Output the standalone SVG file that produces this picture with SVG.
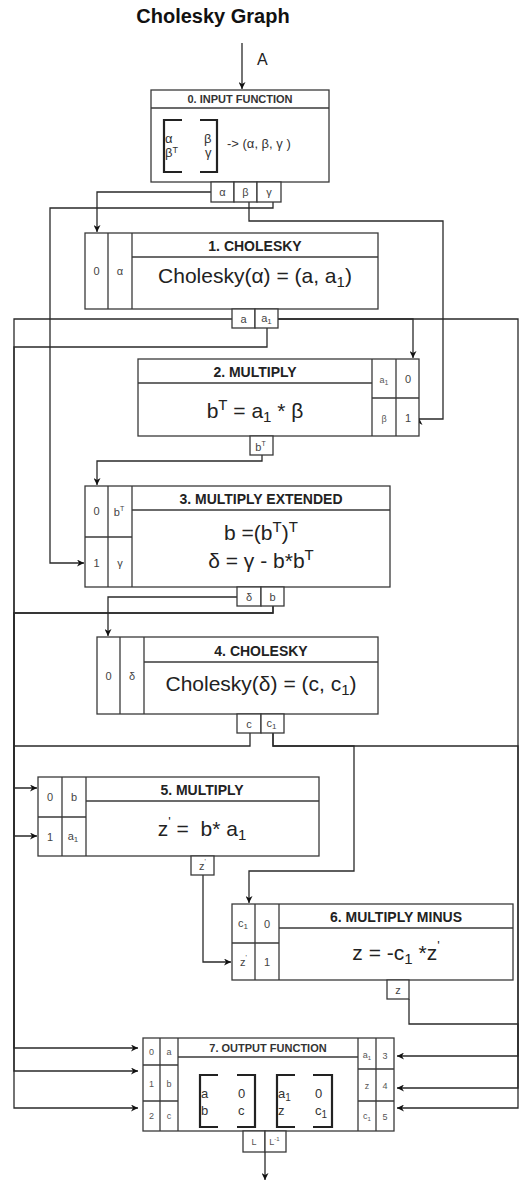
<svg xmlns="http://www.w3.org/2000/svg" width="520" height="1186" viewBox="0 0 520 1186">
<style>
.bg{fill:#fff}
.box{fill:#fff;stroke:#3a3a3a;stroke-width:1.3}
.ln{fill:none;stroke:#3a3a3a;stroke-width:1.3}
.edge{fill:none;stroke:#2a2a2a;stroke-width:1.3}
.brk{fill:none;stroke:#222;stroke-width:2.2}
.title{font-family:"Liberation Sans",Arial,sans-serif;font-weight:bold;font-size:20px;fill:#111;text-anchor:middle}
.hdr{font-family:"Liberation Sans",Arial,sans-serif;font-weight:bold;font-size:14px;fill:#222;text-anchor:middle}
.hdrs{font-family:"Liberation Sans",Arial,sans-serif;font-weight:bold;font-size:11px;fill:#333;text-anchor:middle}
.body{font-family:"Liberation Sans",Arial,sans-serif;font-size:21px;fill:#222;text-anchor:middle}
.mat{font-family:"Liberation Sans",Arial,sans-serif;font-size:13px;fill:#333}
.port{font-family:"Liberation Sans",Arial,sans-serif;font-size:11px;fill:#444;text-anchor:middle}
.ports{font-family:"Liberation Sans",Arial,sans-serif;font-size:9px;fill:#555;text-anchor:middle}
.lbl{font-family:"Liberation Sans",Arial,sans-serif;font-size:16px;fill:#222}
</style>
<defs>
<marker id="arr" viewBox="0 0 10 10" refX="10" refY="5" markerWidth="7" markerHeight="7" markerUnits="userSpaceOnUse" orient="auto">
<path d="M0,0 L10,5 L0,10 L3,5 z" fill="#111"/>
</marker>
</defs>
<rect class="bg" x="0" y="0" width="520" height="1186"/>
<text class="title" x="213" y="23">Cholesky Graph</text>

<g id="connectors">
<path class="edge" d="M242,43 V89" marker-end="url(#arr)"/>
<text class="lbl" x="257" y="65">A</text>
<path class="edge" d="M211,192 H97 V232" marker-end="url(#arr)"/>
<path class="edge" d="M249,202 V221 H443 V419 H419 V418" marker-end="url(#arr)"/>
<path class="edge" d="M273,202 V208 H50 V563 H84" marker-end="url(#arr)"/>
<path class="edge" d="M232,319 H14 V1048 H138" marker-end="url(#arr)"/>
<path class="edge" d="M278,319 H413 V358" marker-end="url(#arr)"/>
<path class="edge" d="M278,319 H518 V1056 H397" marker-end="url(#arr)"/>
<path class="edge" d="M267,328 V347 H14 V836 H37" marker-end="url(#arr)"/>
<path class="edge" d="M262,455 V461 H97 V485" marker-end="url(#arr)"/>
<path class="edge" d="M237,597 H108 V636" marker-end="url(#arr)"/>
<path class="edge" d="M273,606 V613 H14 V788 H37" marker-end="url(#arr)"/>
<path class="edge" d="M273,606 V613 H14 V1071 H138" marker-end="url(#arr)"/>
<path class="edge" d="M250,733 V746 H14 V1108 H138" marker-end="url(#arr)"/>
<path class="edge" d="M273,733 V746 H354 V871 H249 V903" marker-end="url(#arr)"/>
<path class="edge" d="M273,733 V746 H518 V1108 H397" marker-end="url(#arr)"/>
<path class="edge" d="M203,875 V962 H231" marker-end="url(#arr)"/>
<path class="edge" d="M409,999 V1024 H518 V1088 H397" marker-end="url(#arr)"/>
<path class="edge" d="M265,1152 V1180" marker-end="url(#arr)"/>
</g>

<g id="node0">
<rect class="box" x="151" y="90" width="178" height="92"/>
<line class="ln" x1="151" y1="108" x2="329" y2="108"/>
<text class="hdrs" x="240" y="103">0. INPUT FUNCTION</text>
<path class="brk" d="M182,120 H164 V172 H182"/>
<path class="brk" d="M200,120 H217 V172 H200"/>
<text class="mat" x="165" y="143">α</text>
<text class="mat" x="204" y="143">β</text>
<text class="mat" x="165" y="157">β<tspan font-size="9" dy="-4">T</tspan></text>
<text class="mat" x="205" y="157">γ</text>
<text class="mat" x="227" y="148" font-size="14">-&gt; (α, β, γ )</text>
<rect class="box" x="211" y="182" width="23" height="20"/>
<rect class="box" x="234" y="182" width="23" height="20"/>
<rect class="box" x="257" y="182" width="24" height="20"/>
<text class="port" x="222.5" y="196" font-size="10">α</text>
<text class="port" x="245.5" y="196" font-size="10">β</text>
<text class="port" x="269" y="196" font-size="10">γ</text>
</g>

<g id="node1">
<rect class="box" x="85" y="233" width="293" height="76"/>
<line class="ln" x1="108" y1="233" x2="108" y2="309"/>
<line class="ln" x1="132" y1="233" x2="132" y2="309"/>
<line class="ln" x1="132" y1="257" x2="378" y2="257"/>
<text class="hdr" x="255" y="251">1. CHOLESKY</text>
<text class="body" x="255" y="283">Cholesky(α) = (a, a<tspan font-size="15" dy="4">1</tspan><tspan dy="-4">)</tspan></text>
<text class="port" x="96.5" y="275">0</text>
<text class="port" x="120" y="275">α</text>
<rect class="box" x="232" y="309" width="23" height="19"/>
<rect class="box" x="255" y="309" width="23" height="19"/>
<text class="port" x="243.5" y="323">a</text>
<text class="port" x="266.5" y="322">a<tspan font-size="8" dy="2">1</tspan></text>
</g>

<g id="node2">
<rect class="box" x="138" y="359" width="281" height="77"/>
<line class="ln" x1="372" y1="359" x2="372" y2="436"/>
<line class="ln" x1="396" y1="359" x2="396" y2="436"/>
<line class="ln" x1="138" y1="383" x2="372" y2="383"/>
<line class="ln" x1="372" y1="398" x2="419" y2="398"/>
<text class="hdr" x="255" y="377">2. MULTIPLY</text>
<text class="body" x="255" y="418">b<tspan font-size="15" dy="-8">T</tspan><tspan dy="8"> = a</tspan><tspan font-size="15" dy="4">1</tspan><tspan dy="-4"> * β</tspan></text>
<text class="ports" x="384" y="383">a<tspan font-size="7" dy="2">1</tspan></text>
<text class="port" x="408" y="383">0</text>
<text class="ports" x="384" y="422">β</text>
<text class="port" x="408" y="422">1</text>
<rect class="box" x="250" y="436" width="23" height="19"/>
<text class="port" x="260.5" y="451" font-size="10">b<tspan font-size="7" dy="-5">T</tspan></text>
</g>

<g id="node3">
<rect class="box" x="85" y="486" width="305" height="101"/>
<line class="ln" x1="108" y1="486" x2="108" y2="587"/>
<line class="ln" x1="132" y1="486" x2="132" y2="587"/>
<line class="ln" x1="85" y1="537" x2="132" y2="537"/>
<line class="ln" x1="132" y1="510" x2="390" y2="510"/>
<text class="hdr" x="261" y="504">3. MULTIPLY EXTENDED</text>
<text class="body" x="261" y="540">b =(b<tspan font-size="15" dy="-8">T</tspan><tspan dy="8">)</tspan><tspan font-size="15" dy="-8">T</tspan></text>
<text class="body" x="261" y="568">δ = γ - b*b<tspan font-size="15" dy="-8">T</tspan></text>
<text class="port" x="96.5" y="515">0</text>
<text class="port" x="119" y="516" font-size="10">b<tspan font-size="7" dy="-5">T</tspan></text>
<text class="port" x="96.5" y="567">1</text>
<text class="port" x="120" y="567" font-size="10">γ</text>
<rect class="box" x="237" y="587" width="24" height="19"/>
<rect class="box" x="261" y="587" width="23" height="19"/>
<text class="port" x="249" y="601" font-size="10">δ</text>
<text class="port" x="272.5" y="601" font-size="10">b</text>
</g>

<g id="node4">
<rect class="box" x="97" y="637" width="281" height="77"/>
<line class="ln" x1="120" y1="637" x2="120" y2="714"/>
<line class="ln" x1="144" y1="637" x2="144" y2="714"/>
<line class="ln" x1="144" y1="662" x2="378" y2="662"/>
<text class="hdr" x="261" y="656">4. CHOLESKY</text>
<text class="body" x="261" y="691">Cholesky(δ) = (c, c<tspan font-size="15" dy="4">1</tspan><tspan dy="-4">)</tspan></text>
<text class="port" x="108.5" y="680">0</text>
<text class="port" x="132" y="680" font-size="10">δ</text>
<rect class="box" x="237" y="714" width="24" height="19"/>
<rect class="box" x="261" y="714" width="23" height="19"/>
<text class="port" x="249" y="728">c</text>
<text class="port" x="271.5" y="727">c<tspan font-size="8" dy="2">1</tspan></text>
</g>

<g id="node5">
<rect class="box" x="38" y="777" width="281" height="79"/>
<line class="ln" x1="62" y1="777" x2="62" y2="856"/>
<line class="ln" x1="86" y1="777" x2="86" y2="856"/>
<line class="ln" x1="38" y1="817" x2="86" y2="817"/>
<line class="ln" x1="86" y1="801" x2="319" y2="801"/>
<text class="hdr" x="202" y="795">5. MULTIPLY</text>
<text class="body" x="202" y="836">z<tspan font-size="13" dy="-10">'</tspan><tspan dy="10"> =&#160; b* a</tspan><tspan font-size="15" dy="4">1</tspan></text>
<text class="port" x="50" y="801">0</text>
<text class="port" x="74" y="801">b</text>
<text class="port" x="50" y="841">1</text>
<text class="port" x="73" y="840">a<tspan font-size="8" dy="2">1</tspan></text>
<rect class="box" x="191" y="856" width="23" height="19"/>
<text class="port" x="202.5" y="870">z<tspan font-size="7" dy="-6">'</tspan></text>
</g>

<g id="node6">
<rect class="box" x="232" y="904" width="281" height="76"/>
<line class="ln" x1="255" y1="904" x2="255" y2="980"/>
<line class="ln" x1="279" y1="904" x2="279" y2="980"/>
<line class="ln" x1="232" y1="943" x2="279" y2="943"/>
<line class="ln" x1="279" y1="928" x2="513" y2="928"/>
<text class="hdr" x="396" y="922">6. MULTIPLY MINUS</text>
<text class="body" x="396" y="960">z = -c<tspan font-size="15" dy="4">1</tspan><tspan dy="-4"> *z</tspan><tspan font-size="13" dy="-10">'</tspan></text>
<text class="port" x="243" y="927">c<tspan font-size="8" dy="2">1</tspan></text>
<text class="port" x="267" y="928">0</text>
<text class="port" x="243.5" y="966">z<tspan font-size="7" dy="-6">'</tspan></text>
<text class="port" x="267" y="966">1</text>
<rect class="box" x="387" y="980" width="22" height="19"/>
<text class="port" x="398" y="994">z</text>
</g>

<g id="node7">
<rect class="box" x="143" y="1038" width="251" height="93"/>
<line class="ln" x1="160" y1="1038" x2="160" y2="1131"/>
<line class="ln" x1="178" y1="1038" x2="178" y2="1131"/>
<line class="ln" x1="143" y1="1065" x2="178" y2="1065"/>
<line class="ln" x1="143" y1="1101" x2="178" y2="1101"/>
<line class="ln" x1="358" y1="1038" x2="358" y2="1131"/>
<line class="ln" x1="376" y1="1038" x2="376" y2="1131"/>
<line class="ln" x1="358" y1="1069" x2="394" y2="1069"/>
<line class="ln" x1="358" y1="1101" x2="394" y2="1101"/>
<line class="ln" x1="178" y1="1057" x2="358" y2="1057"/>
<text class="hdrs" x="268" y="1052">7. OUTPUT FUNCTION</text>
<path class="brk" d="M218,1075 H200 V1127 H218"/>
<path class="brk" d="M237,1075 H255 V1127 H237"/>
<path class="brk" d="M295,1075 H277 V1127 H295"/>
<path class="brk" d="M313,1075 H332 V1127 H313"/>
<text class="mat" x="201" y="1098">a</text>
<text class="mat" x="238" y="1098">0</text>
<text class="mat" x="201" y="1115">b</text>
<text class="mat" x="238" y="1115">c</text>
<text class="mat" x="278" y="1098">a<tspan font-size="10" dy="3">1</tspan></text>
<text class="mat" x="315" y="1098">0</text>
<text class="mat" x="278" y="1115">z</text>
<text class="mat" x="315" y="1115">c<tspan font-size="10" dy="3">1</tspan></text>
<text class="ports" x="151.5" y="1055">0</text>
<text class="ports" x="169" y="1055">a</text>
<text class="ports" x="151.5" y="1087">1</text>
<text class="ports" x="169" y="1087">b</text>
<text class="ports" x="151.5" y="1119">2</text>
<text class="ports" x="169" y="1119">c</text>
<text class="ports" x="367" y="1058">a<tspan font-size="6" dy="2">1</tspan></text>
<text class="ports" x="385" y="1059">3</text>
<text class="ports" x="367" y="1089">z</text>
<text class="ports" x="385" y="1089">4</text>
<text class="ports" x="367" y="1119">c<tspan font-size="6" dy="2">1</tspan></text>
<text class="ports" x="385" y="1120">5</text>
<rect class="box" x="243" y="1131" width="22" height="21"/>
<rect class="box" x="265" y="1131" width="21" height="21"/>
<text class="ports" x="254" y="1145">L</text>
<text class="ports" x="274.5" y="1145">L<tspan font-size="6" dy="-4">-1</tspan></text>
</g>
</svg>
